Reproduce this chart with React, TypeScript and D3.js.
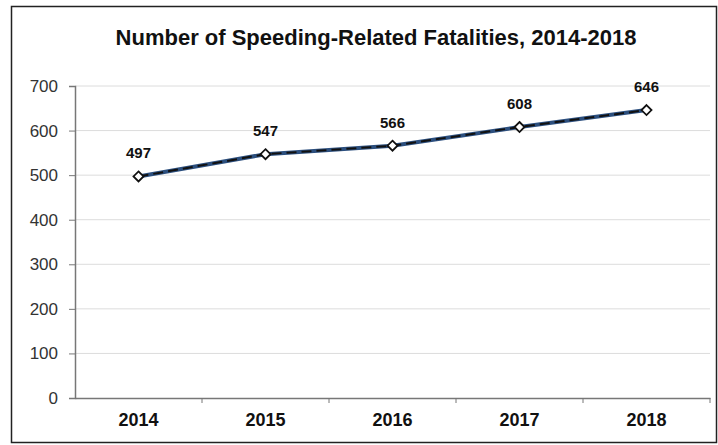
import React, { useRef, useEffect } from 'react';
import * as d3 from 'd3';

const years = ['2014', '2015', '2016', '2017', '2018'];
const fatalities = [497, 547, 566, 608, 646];
const yTicks = [0, 100, 200, 300, 400, 500, 600, 700];

const W = 718;
const H = 445;
const FONT = 'Arial, Liberation Sans, sans-serif';

export default function App() {
  const ref = useRef(null);

  useEffect(() => {
    const svg = d3.select(ref.current);
    svg.selectAll('*').remove();

    const left = 75;
    const right = 710;
    const top = 86;
    const bottom = 398;

    const x = d3.scaleBand().domain(years).range([left, right]);
    const y = d3.scaleLinear().domain([0, 700]).range([bottom, top]);

    // frame
    svg
      .append('rect')
      .attr('x', 11.5)
      .attr('y', 6.5)
      .attr('width', 705)
      .attr('height', 436)
      .attr('fill', '#fff')
      .attr('stroke', '#222')
      .attr('stroke-width', 1.5);

    svg
      .append('text')
      .attr('x', 376)
      .attr('y', 45)
      .attr('text-anchor', 'middle')
      .attr('font-family', FONT)
      .attr('font-weight', 'bold')
      .attr('font-size', 22)
      .attr('fill', '#111')
      .text('Number of Speeding-Related Fatalities, 2014-2018');

    // gridlines
    svg
      .append('g')
      .selectAll('line')
      .data(yTicks.filter((d) => d > 0))
      .enter()
      .append('line')
      .attr('x1', left)
      .attr('x2', right)
      .attr('y1', (d) => y(d))
      .attr('y2', (d) => y(d))
      .attr('stroke', '#dcdcdc')
      .attr('stroke-width', 1);

    // y axis
    const yAxis = svg
      .append('g')
      .attr('transform', `translate(${left},0)`)
      .call(d3.axisLeft(y).tickValues(yTicks).tickSize(6).tickPadding(11));
    yAxis.select('.domain').attr('stroke', '#777').attr('stroke-width', 1.5);
    yAxis.selectAll('.tick line').attr('stroke', '#777');
    yAxis
      .selectAll('text')
      .attr('font-family', FONT)
      .attr('font-size', 17)
      .attr('fill', '#333');

    // x axis
    const xAxis = svg
      .append('g')
      .attr('transform', `translate(0,${bottom})`)
      .call(d3.axisBottom(x).tickSize(0).tickPadding(15));
    xAxis.select('.domain').attr('stroke', '#777').attr('stroke-width', 1.5);
    xAxis
      .selectAll('text')
      .attr('font-family', FONT)
      .attr('font-size', 18)
      .attr('font-weight', 'bold')
      .attr('fill', '#111');
    // category separators
    svg
      .append('g')
      .selectAll('line')
      .data(years.slice(1).concat(['end']))
      .enter()
      .append('line')
      .attr('x1', (d) => (d === 'end' ? right : x(d)))
      .attr('x2', (d) => (d === 'end' ? right : x(d)))
      .attr('y1', bottom)
      .attr('y2', bottom + 5)
      .attr('stroke', '#777');

    const cx = (d, i) => x(years[i]) + x.bandwidth() / 2;
    const line = d3
      .line()
      .x((d, i) => cx(d, i))
      .y((d) => y(d));

    svg
      .append('path')
      .datum(fatalities)
      .attr('d', line)
      .attr('fill', 'none')
      .attr('stroke', '#2c4f7e')
      .attr('stroke-width', 4);

    svg
      .append('path')
      .datum(fatalities)
      .attr('d', line)
      .attr('fill', 'none')
      .attr('stroke', '#111')
      .attr('stroke-width', 2)
      .attr('stroke-dasharray', '10,5');

    const diamond = d3.symbol().type(d3.symbolDiamond2).size(64);
    svg
      .append('g')
      .selectAll('path')
      .data(fatalities)
      .enter()
      .append('path')
      .attr('d', diamond)
      .attr('transform', (d, i) => `translate(${cx(d, i)},${y(d)})`)
      .attr('fill', '#fff')
      .attr('stroke', '#111')
      .attr('stroke-width', 1.8);

    svg
      .append('g')
      .selectAll('text')
      .data(fatalities)
      .enter()
      .append('text')
      .attr('x', (d, i) => cx(d, i))
      .attr('y', (d) => y(d) - 18)
      .attr('text-anchor', 'middle')
      .attr('font-family', FONT)
      .attr('font-size', 15)
      .attr('font-weight', 'bold')
      .attr('fill', '#111')
      .text((d) => d);
  }, []);

  return (
    <svg
      ref={ref}
      width={W}
      height={H}
      style={{ position: 'absolute', left: 0, top: 0 }}
    />
  );
}
